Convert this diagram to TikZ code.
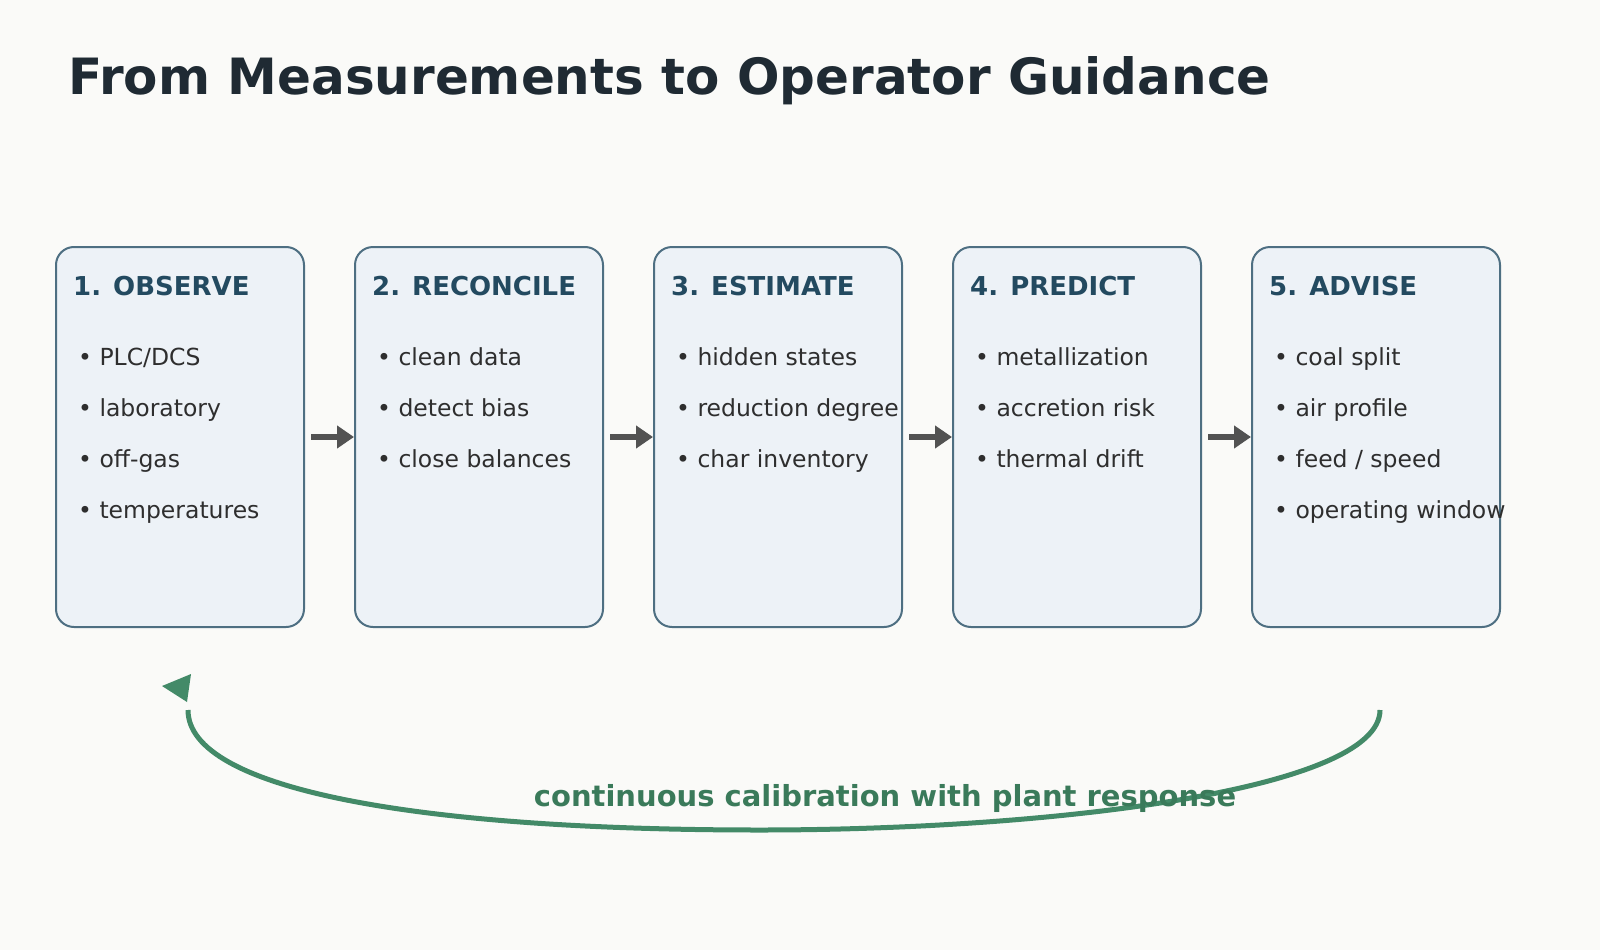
\documentclass[tikz,border=0pt]{standalone}
\usepackage{fontspec}
\setmainfont{DejaVu Sans}
\usetikzlibrary{arrows.meta,positioning}
\definecolor{bgc}{HTML}{FAFAF8}
\definecolor{boxfill}{HTML}{EDF2F7}
\definecolor{boxline}{HTML}{4E6F82}
\definecolor{headc}{HTML}{234A60}
\definecolor{txtc}{HTML}{2E2E2E}
\definecolor{titlec}{HTML}{1F2A33}
\definecolor{loopc}{HTML}{438A68}
\definecolor{loopt}{HTML}{3A7A5A}
\tikzset{
  stage/.style={rectangle,rounded corners=18pt,draw=boxline,line width=2pt,fill=boxfill,minimum width=248pt,minimum height=380pt,anchor=north west},
  head/.style={anchor=base west,text=headc,font=\fontsize{26}{30}\selectfont\bfseries,inner sep=0pt},
  item/.style={anchor=base west,text=txtc,font=\fontsize{23.5}{28}\selectfont,inner sep=0pt},
  flow/.style={-{Triangle[length=17pt,width=22pt]},line width=6pt,draw=black!68,shorten <=6pt}
}
\begin{document}
\begin{tikzpicture}[x=1pt,y=-1pt]
\useasboundingbox (0,0) rectangle (1600,950);
\fill[bgc] (0,0) rectangle (1600,950);
\node[anchor=base west,text=titlec,font=\fontsize{50}{58}\selectfont\bfseries,inner sep=0pt] (title) at (68,94) {From Measurements to Operator Guidance};
% boxes
\node[stage] (s1) at (55,246) {};
\node[stage] (s2) at (354,246) {};
\node[stage] (s3) at (653,246) {};
\node[stage] (s4) at (952,246) {};
\node[stage] (s5) at (1251,246) {};
% headings
\node[head] (h1) at (73,295) {1. OBSERVE};
\node[head] (h2) at (372,295) {2. RECONCILE};
\node[head] (h3) at (671,295) {3. ESTIMATE};
\node[head] (h4) at (970,295) {4. PREDICT};
\node[head] (h5) at (1269,295) {5. ADVISE};
% bullets
\node[item] (b11) at (78,365) {• PLC/DCS};
\node[item] (b12) at (78,416) {• laboratory};
\node[item] (b13) at (78,467) {• off-gas};
\node[item] (b14) at (78,518) {• temperatures};
\node[item] (b21) at (377,365) {• clean data};
\node[item] (b22) at (377,416) {• detect bias};
\node[item] (b23) at (377,467) {• close balances};
\node[item] (b31) at (676,365) {• hidden states};
\node[item] (b32) at (676,416) {• reduction degree};
\node[item] (b33) at (676,467) {• char inventory};
\node[item] (b41) at (975,365) {• metallization};
\node[item] (b42) at (975,416) {• accretion risk};
\node[item] (b43) at (975,467) {• thermal drift};
\node[item] (b51) at (1274,365) {• coal split};
\node[item] (b52) at (1274,416) {• air profile};
\node[item] (b53) at (1274,467) {• feed / speed};
\node[item] (b54) at (1274,518) {• operating window};
% arrows between stages
\draw[flow] (s1.east) -- (s2.west);
\draw[flow] (s2.east) -- (s3.west);
\draw[flow] (s3.east) -- (s4.west);
\draw[flow] (s4.east) -- (s5.west);
% feedback loop
\coordinate (l5) at (1380,710);
\coordinate (l1) at (188,710);
\draw[loopc,line width=5pt] (l5) .. controls (1380,790) and (1050,830) .. (760,830) .. controls (420,830) and (188,790) .. (l1);
\fill[loopc] (162,686) -- (191,674) -- (187,702) -- cycle;
\node[anchor=base,text=loopt,font=\fontsize{29}{34}\selectfont\bfseries,inner sep=0pt] (looplabel) at (885,806) {continuous calibration with plant response};
\end{tikzpicture}
\end{document}
